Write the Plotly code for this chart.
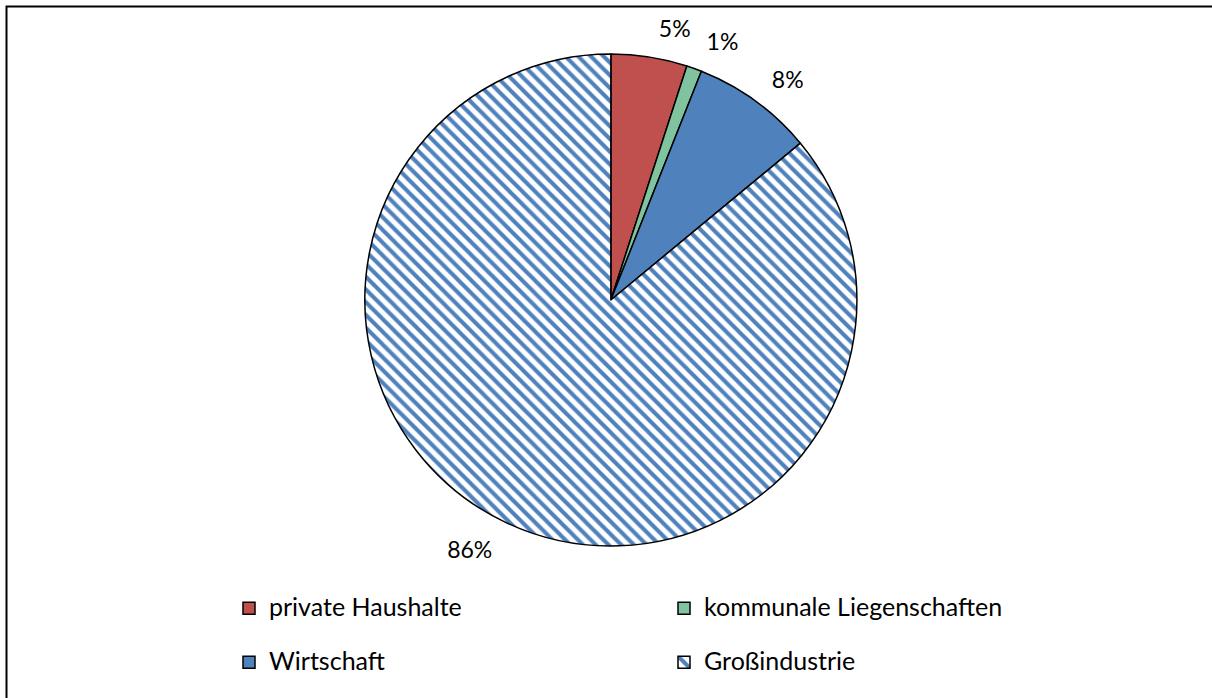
import plotly.graph_objects as go

# Anteile je Sektor (Prozent)
sectors = ["private Haushalte", "kommunale Liegenschaften", "Wirtschaft", "Großindustrie"]
shares = [5, 1, 8, 86]

colors = ["#C0504D", "#80C49F", "#4F81BD", "#FFFFFF"]
patterns = ["", "", "", "\\"]

font_family = "Lato, 'Open Sans', sans-serif"
W, H = 1212, 698

# pie geometry in paper units
cx, cy = 0.504, 1 - 300 / H
r_pie = 246 / H
r_text = 262 / H


def dom(r):
    return dict(x=[cx - r * H / W, cx + r * H / W], y=[cy - r, cy + r])


# legend entries: larger visible text, first row padded with an empty line
legend_labels = []
for i, s in enumerate(sectors):
    lab = f"<span style='font-size:25px'>{s}</span>"
    if i < 2:
        lab += "<br>&nbsp;"
    legend_labels.append(lab)

fig = go.Figure()

# the pie itself
fig.add_trace(
    go.Pie(
        labels=legend_labels,
        values=shares,
        sort=False,
        direction="clockwise",
        rotation=0,
        textinfo="none",
        customdata=sectors,
        hovertemplate="%{customdata}: %{percent:.0%}<extra></extra>",
        marker=dict(
            colors=colors,
            line=dict(color="#000000", width=1.5),
            pattern=dict(
                shape=patterns,
                fgcolor="#4F81BD",
                bgcolor="#FFFFFF",
                size=9,
                solidity=0.45,
            ),
        ),
        domain=dom(r_pie),
    )
)

# percentage labels, split over two transparent rings so neighbouring
# small slices keep their labels in place
label_sets = [
    ["outside", "none", "outside", "outside"],
    ["none", "outside", "none", "none"],
]
for positions in label_sets:
    fig.add_trace(
        go.Pie(
            labels=legend_labels,
            values=shares,
            sort=False,
            direction="clockwise",
            rotation=0,
            textinfo="percent",
            texttemplate="%{percent:.0%}",
            textposition=positions,
            textfont=dict(family=font_family, size=23, color="#000000"),
            marker=dict(colors=["rgba(0,0,0,0)"] * 4, line=dict(width=0)),
            domain=dom(r_text),
            hoverinfo="skip",
            showlegend=False,
        )
    )

fig.update_layout(
    width=W,
    height=H,
    margin=dict(l=0, r=0, t=0, b=0),
    paper_bgcolor="#FFFFFF",
    plot_bgcolor="#FFFFFF",
    font=dict(family=font_family, color="#000000"),
    showlegend=True,
    legend=dict(
        orientation="h",
        x=229 / W,
        xanchor="left",
        y=1 - 589 / H,
        yanchor="top",
        entrywidth=390,
        entrywidthmode="pixels",
        valign="top",
        font=dict(family=font_family, size=19.6, color="#000000"),
        bgcolor="rgba(0,0,0,0)",
        itemclick=False,
        itemdoubleclick=False,
    ),
    shapes=[
        dict(
            type="rect",
            xref="paper",
            yref="paper",
            x0=6.5 / W,
            x1=1.02,
            y0=-0.02,
            y1=1 - 6.5 / H,
            line=dict(color="#000000", width=2),
            fillcolor="rgba(0,0,0,0)",
            layer="below",
        )
    ],
)

fig.write_html("out.html")
